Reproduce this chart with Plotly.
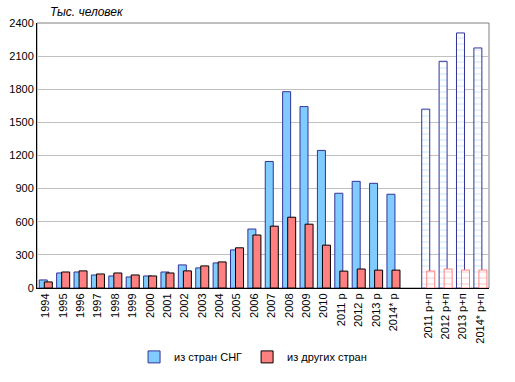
import plotly.graph_objects as go

# Data
years = ['1994', '1995', '1996', '1997', '1998', '1999', '2000', '2001', '2002',
         '2003', '2004', '2005', '2006', '2007', '2008', '2009', '2010',
         '2011 р', '2012 р', '2013 р', '2014* р']
cis = [73, 136, 145, 118, 109, 100, 109, 145, 209, 182, 227, 345, 534,
       1146, 1778, 1643, 1246, 858, 966, 948, 849]
other = [55, 145, 155, 127, 136, 118, 109, 136, 155, 200, 236, 364, 480,
         560, 641, 578, 388, 153, 172, 162, 162]

gap = ' '
rp_labels = ['2011 р+п', '2012 р+п', '2013 р+п', '2014* р+п']
cis_rp = [1620, 2053, 2310, 2174]
other_rp = [154, 172, 163, 163]

y_ticks = [0, 300, 600, 900, 1200, 1500, 1800, 2100, 2400]
categories = years + [gap] + rp_labels

CIS_FILL = '#80CCFF'
CIS_LINE = '#333399'
OTH_FILL = '#FF8080'
OTH_LINE = '#000000'

W = 0.46
OFF_CIS = -0.37
OFF_OTH = -0.08

fig = go.Figure()
fig.add_trace(go.Bar(x=years, y=cis, name='из стран СНГ',
                     marker=dict(color=CIS_FILL, line=dict(color=CIS_LINE, width=1)),
                     width=W, offset=OFF_CIS))
fig.add_trace(go.Bar(x=years, y=other, name='из других стран',
                     marker=dict(color=OTH_FILL, line=dict(color=OTH_LINE, width=1)),
                     width=W, offset=OFF_OTH))
fig.add_trace(go.Bar(x=rp_labels, y=cis_rp, showlegend=False,
                     marker=dict(color='white', line=dict(color=CIS_LINE, width=1),
                                 pattern=dict(shape='-', fgcolor=CIS_FILL, bgcolor='white',
                                              size=6, solidity=0.15)),
                     width=W, offset=OFF_CIS))
fig.add_trace(go.Bar(x=rp_labels, y=other_rp, showlegend=False,
                     marker=dict(color='white', line=dict(color=OTH_FILL, width=1),
                                 pattern=dict(shape='-', fgcolor=OTH_FILL, bgcolor='white',
                                              size=6, solidity=0.15)),
                     width=W, offset=OFF_OTH))

fig.update_layout(
    width=515, height=382,
    barmode='overlay',
    paper_bgcolor='white', plot_bgcolor='white',
    margin=dict(l=37, r=26, t=23, b=94, autoexpand=False),
    font=dict(family='Liberation Sans, Arial, sans-serif', size=11, color='black'),
    showlegend=True,
    legend=dict(orientation='h', x=0.478, xanchor='center', y=-0.26, yanchor='middle',
                font=dict(size=11), itemwidth=30, traceorder='normal',
                tracegroupgap=0),
    xaxis=dict(type='category', categoryorder='array', categoryarray=categories,
               range=[-0.5, len(categories) - 0.5], automargin=False,
               tickangle=-90, showgrid=False, showline=True, linecolor='black',
               linewidth=1, ticks='', tickfont=dict(size=11)),
    yaxis=dict(range=[0, 2400], tickvals=y_ticks, showgrid=True, gridcolor='#C0C0C0',
               gridwidth=1, showline=True, linecolor='black', linewidth=1, ticks='',
               zeroline=False, tickfont=dict(size=11), automargin=False),
    shapes=[dict(type='rect', xref='paper', yref='paper', x0=0, x1=1, y0=0, y1=1,
                 line=dict(color='#808080', width=1), layer='below')],
    annotations=[dict(text='<i>Тыс. человек</i>', xref='paper', yref='paper',
                      x=0.025, y=1.0, xanchor='left', yanchor='bottom', showarrow=False,
                      font=dict(size=12), yshift=2)],
)

fig.write_html('out.html', config={'displayModeBar': False},
               post_script="document.body.style.margin='0px';document.body.style.overflow='hidden';")
